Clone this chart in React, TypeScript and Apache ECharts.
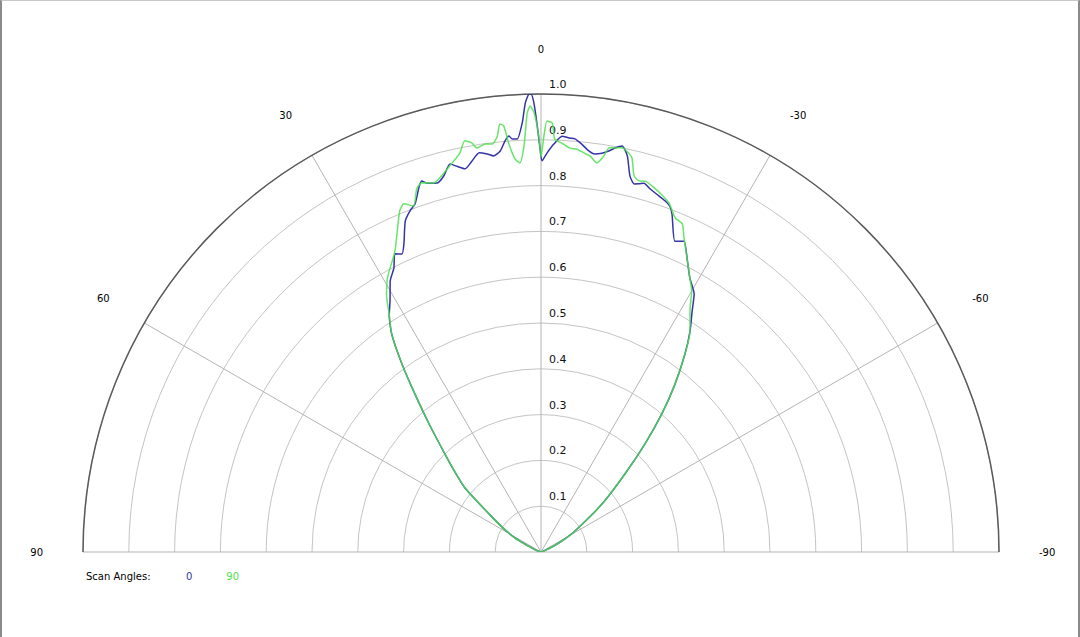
import React, { useEffect, useRef } from 'react';
import * as echarts from 'echarts';

const scan0Data = [
    [90, 0], [85, 0], [80, 0.001], [75, 0.004], [70, 0.012], [65, 0.03], [61.7, 0.064],
    [57.5, 0.1], [53.8, 0.14], [49.9, 0.217], [47, 0.258], [44.4, 0.3], [41.2, 0.37],
    [38.6, 0.441], [36.5, 0.51], [34.4, 0.577], [32.6, 0.615],
    [31.0, 0.64], [29.1, 0.677], [27.4, 0.698], [26.1, 0.725], [25.0, 0.718], [24.0, 0.736],
    [22.3, 0.781], [21.0, 0.798], [19.9, 0.808], [18.4, 0.842], [17.8, 0.851], [17.2, 0.843],
    [15.7, 0.837], [14.5, 0.848], [13.2, 0.87], [12.3, 0.862], [11.2, 0.853], [10.0, 0.867],
    [8.8, 0.882], [7.7, 0.877], [6.8, 0.871], [5.8, 0.88], [5.0, 0.901], [4.4, 0.911],
    [4.0, 0.904], [3.3, 0.903], [2.5, 0.938], [2.0, 0.981], [1.5, 1.0], [1.25, 1.0],
    [0.9, 0.98], [0.5, 0.93], [0.1, 0.876], [-0.15, 0.854],
    [-0.86, 0.871], [-1.8, 0.891], [-2.9, 0.909], [-3.9, 0.906], [-4.7, 0.905], [-5.7, 0.895],
    [-6.8, 0.882], [-7.7, 0.877], [-8.7, 0.881], [-9.6, 0.888], [-10.4, 0.897], [-11.3, 0.904],
    [-12.3, 0.885], [-13.3, 0.844], [-14.2, 0.829], [-14.9, 0.832], [-15.6, 0.836], [-16.7, 0.828],
    [-18.3, 0.819], [-19.5, 0.813], [-20.4, 0.806], [-21.2, 0.791], [-23.3, 0.739], [-24.7, 0.747],
    [-26.4, 0.717], [-28.5, 0.681], [-30.7, 0.655], [-32.1, 0.621], [-34.0, 0.582],
    [-36.0, 0.535], [-38.6, 0.469], [-41.2, 0.4], [-43.9, 0.327], [-47.1, 0.25], [-51.8, 0.17],
    [-58.3, 0.087], [-62, 0.055], [-66, 0.027], [-70, 0.01], [-75, 0.003], [-80, 0.001],
    [-85, 0], [-90, 0]
];

const scan90Data = [
    [90, 0], [85, 0], [80, 0.001], [75, 0.004], [70, 0.012], [65, 0.03], [61.7, 0.064],
    [57.5, 0.1], [53.8, 0.14], [49.9, 0.217], [47, 0.258], [44.4, 0.3], [41.2, 0.37],
    [38.6, 0.441], [36.5, 0.51], [34.4, 0.577], [32.6, 0.615],
    [31.0, 0.655], [29.9, 0.675], [29.4, 0.684], [28.0, 0.702], [25.9, 0.73], [22.5, 0.806],
    [21.5, 0.817], [20.2, 0.805], [18.9, 0.838], [17.9, 0.847], [16.2, 0.839], [14.4, 0.854],
    [12.9, 0.871], [11.5, 0.889], [10.5, 0.913], [9.6, 0.906], [9.0, 0.893], [7.8, 0.899],
    [6.8, 0.897], [6.0, 0.913], [5.5, 0.939], [5.0, 0.934], [4.5, 0.894], [3.8, 0.86],
    [3.1, 0.851], [2.4, 0.887], [1.8, 0.959], [1.4, 0.974], [0.9, 0.959], [0.3, 0.908],
    [0, 0.862], [-0.4, 0.908], [-0.8, 0.941], [-1.5, 0.937], [-1.9, 0.902], [-2.9, 0.894],
    [-4.1, 0.884], [-5.1, 0.883], [-6.2, 0.876], [-7.1, 0.871], [-8.2, 0.858], [-9.0, 0.875],
    [-9.6, 0.895], [-10.4, 0.897], [-11.3, 0.9], [-12.1, 0.895], [-13.0, 0.883], [-13.9, 0.846],
    [-14.9, 0.838], [-15.7, 0.841], [-16.9, 0.835], [-18.3, 0.826], [-20.1, 0.812], [-21.9, 0.786],
    [-23.3, 0.78], [-24.5, 0.753], [-26.4, 0.717], [-28.5, 0.681], [-30.0, 0.658], [-31.7, 0.619],
    [-34.0, 0.582],
    [-36.0, 0.535], [-38.6, 0.469], [-41.2, 0.4], [-43.9, 0.327], [-47.1, 0.25], [-51.8, 0.17],
    [-58.3, 0.087], [-62, 0.055], [-66, 0.027], [-70, 0.01], [-75, 0.003], [-80, 0.001],
    [-85, 0], [-90, 0]
];

const seriesNames = ['0', '90'];
const seriesColors = ['#3434a8', '#4ee04e'];

const FONT = 'DejaVu Sans';

const App = () => {
    const chartRef = useRef<HTMLDivElement>(null);

    useEffect(() => {
        if (!chartRef.current) return;
        const myChart = echarts.init(chartRef.current, null, { renderer: 'svg' });

        const polarCenter = [539, 551];
        const polarRadius = 458;

        const option = {
            animation: false,
            backgroundColor: '#ffffff',
            title: {
                text: 'Scan Angles:',
                left: 79,
                top: 565,
                textStyle: { fontSize: 10, fontWeight: 'normal', color: '#000', fontFamily: FONT }
            },
            legend: {
                left: 173,
                top: 565,
                icon: 'rect',
                itemWidth: 1,
                itemHeight: 1,
                itemGap: 28,
                itemStyle: { opacity: 0 },
                lineStyle: { opacity: 0 },
                data: seriesNames.map((n, i) => ({
                    name: n,
                    textStyle: { color: seriesColors[i], fontSize: 10, fontFamily: FONT }
                }))
            },
            polar: [
                { center: polarCenter, radius: polarRadius },
                { center: polarCenter, radius: polarRadius }
            ],
            angleAxis: [
                {
                    polarIndex: 0,
                    type: 'value',
                    min: -90,
                    max: 90,
                    interval: 30,
                    startAngle: 0,
                    endAngle: 180,
                    clockwise: false,
                    axisLine: { lineStyle: { color: '#5a5a5a', width: 1.5 } },
                    axisTick: { show: false },
                    axisLabel: { margin: 40, color: '#000', fontSize: 10, fontFamily: FONT },
                    splitLine: { show: true, lineStyle: { color: '#b4b4b4', width: 1 } }
                },
                {
                    polarIndex: 1,
                    type: 'value',
                    min: -90,
                    max: 90,
                    startAngle: 90,
                    show: false
                }
            ],
            radiusAxis: [
                {
                    polarIndex: 0,
                    type: 'value',
                    min: 0,
                    max: 1,
                    interval: 0.1,
                    axisLine: { show: false },
                    axisTick: { show: false },
                    axisLabel: { show: false },
                    splitLine: { show: true, lineStyle: { color: '#c4c4c4', width: 1 } }
                },
                {
                    polarIndex: 1,
                    type: 'value',
                    min: 0,
                    max: 1,
                    interval: 0.1,
                    axisLine: { show: false },
                    axisTick: { show: false },
                    splitLine: { show: false },
                    axisLabel: {
                        margin: -8,
                        align: 'left',
                        verticalAlign: 'bottom',
                        padding: [0, 0, 4, 0],
                        color: '#111',
                        fontSize: 11,
                        fontFamily: FONT,
                        formatter: (v: number) => (v === 0 ? '' : v.toFixed(1))
                    }
                }
            ],
            series: [scan0Data, scan90Data].map((d, i) => ({
                name: seriesNames[i],
                type: 'line',
                coordinateSystem: 'polar',
                polarIndex: 0,
                showSymbol: false,
                symbol: 'none',
                smooth: 0.2,
                data: d.map((p) => [p[1], p[0]]),
                lineStyle: { color: seriesColors[i], width: 1.5, opacity: i === 1 ? 0.85 : 1 },
                itemStyle: { color: seriesColors[i] },
                z: 3
            }))
        };

        myChart.setOption(option as any);

        return () => {
            myChart.dispose();
        };
    }, []);

    return (
        <div
            ref={chartRef}
            style={{
                position: 'fixed',
                left: 0,
                top: 0,
                width: 1080,
                height: 637,
                boxSizing: 'border-box',
                borderLeft: '2px solid #8a8a8a',
                borderRight: '2px solid #8a8a8a',
                borderTop: '1px solid #c8c8c8'
            }}
        />
    );
};

export default App;
